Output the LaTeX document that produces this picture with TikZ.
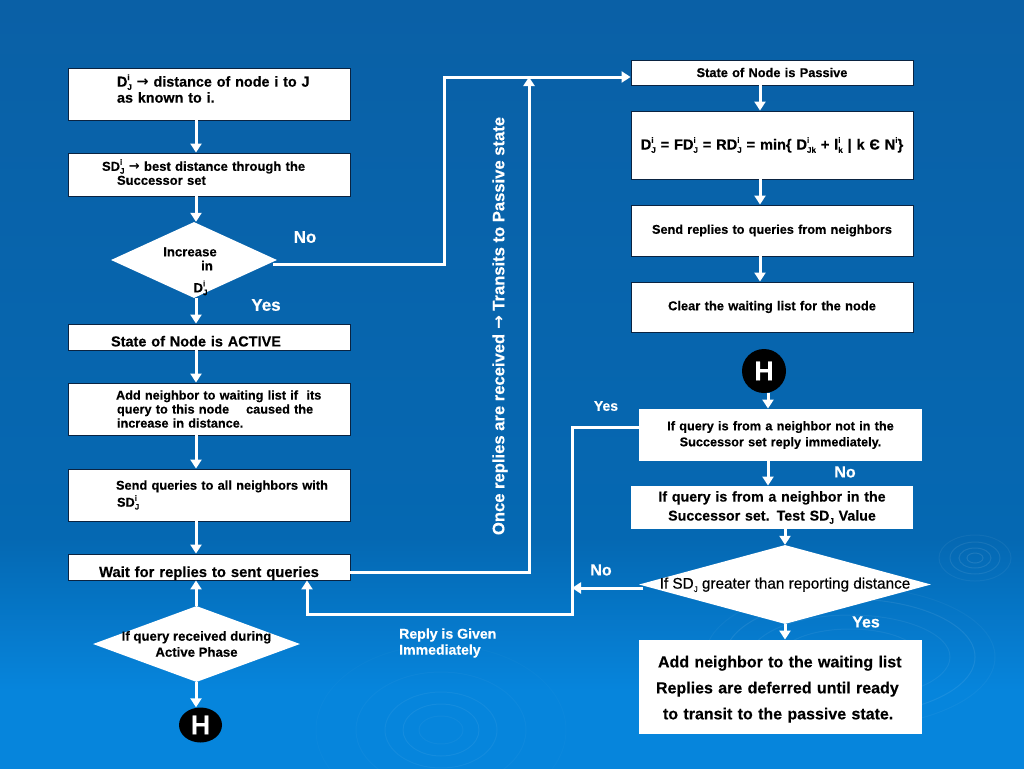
\documentclass[tikz,border=0pt]{standalone}
\usepackage{fontspec}
\setmainfont[BoldFeatures={FakeBold=0.3}]{Liberation Sans}
\newfontfamily\arrowfont{DejaVu Sans}
\newfontfamily\medfont[FakeBold=0.5]{Liberation Sans}
\usetikzlibrary{arrows.meta,shapes.geometric}

\definecolor{bgtop}{RGB}{10,96,166}
\definecolor{bgmid}{RGB}{5,104,178}
\definecolor{bglow}{RGB}{6,133,220}
\definecolor{boxline}{RGB}{10,35,65}
\pgfdeclareverticalshading{bgfade}{100bp}{color(0bp)=(bglow); color(30bp)=(bglow); color(40bp)=(bgmid); color(75bp)=(bgtop); color(100bp)=(bgtop)}

\newcommand{\uptext}[1]{\raisebox{.45em}{\fontsize{8}{8}\selectfont #1}}
\newcommand{\downtext}[1]{\raisebox{-.22em}{\fontsize{8}{8}\selectfont #1}}
\newcommand{\supsub}[2]{\rlap{\uptext{#1}}\downtext{#2}}
\newcommand{\goesto}{{\arrowfont\bfseries\char"2192}}
\newcommand{\fs}[2]{\fontsize{#1}{#2}\selectfont\bfseries}
% text of a diamond, without a say in its size
\newcommand{\deck}[2][-4.5pt]{\makebox[0pt]{\raisebox{#1}[0pt][0pt]{\begin{tabular}{@{}c@{}}#2\end{tabular}}}}

\tikzset{
	flowbox/.style={rectangle,draw=boxline,line width=0.9pt,fill=white,minimum width=282pt,text width=282pt,inner xsep=0pt,inner ysep=0pt,align=center,text=black,font=\fs{12.8}{14}},
	leftbox/.style={flowbox,align=left},
	plainbox/.style={flowbox,draw=none},
	flowdec/.style={diamond,fill=white,inner sep=0pt,text=black,font=\fs{13.2}{16}},
	stopdot/.style={ellipse,fill=black,text=white,inner sep=0pt,font=\fs{27}{30}},
	tag/.style={text=white,inner sep=0pt,font=\fs{#1}{16}},
	flowline/.style={draw=white,line width=3pt,line join=miter},
	flow/.style={flowline,-{Triangle[width=11pt,length=9pt]}},
	ring/.style={draw=white,line width=1pt}
}

\begin{document}
\begin{tikzpicture}[x=1pt,y=-1pt,auto,node distance=72pt]
	\useasboundingbox (0,0) rectangle (1024,768);
	\shade [shading=bgfade] (0,0) rectangle (1024,768);

	% Ripples
	\foreach \rx/\ry/\op in {8/5/.10,16/10/.09,25/16/.08,36/23/.05}
		\draw [ring,opacity=\op] (975,558) ellipse [x radius=\rx,y radius=\ry];
	\foreach \rx/\ry/\op in {22/14/.04,38/26/.06,56/38/.05,85/58/.03,125/85/.02}
		\draw [ring,opacity=\op] (441,730) ellipse [x radius=\rx,y radius=\ry];
	\foreach \rx/\ry/\op in {70/28/.06,100/42/.06,125/58/.08,145/70/.04}
		\draw [ring,opacity=\op] (850,657) ellipse [x radius=\rx,y radius=\ry];

	% Left column
	\node [leftbox,minimum height=52pt,text depth=27pt,font=\fs{14.4}{16}] (known) at (209,94) {\hspace*{49pt}D\supsub{i}{J} \goesto{} distance of node i to J\\\hspace*{49pt}as known to i.};
	\node [leftbox,below of=known,node distance=80.5pt,minimum height=43pt,text depth=19pt,font=\fs{13}{14}] (best) {\hspace*{34pt}SD\supsub{i}{J} \goesto{} best distance through the\\\hspace*{49pt}Successor set};
	\node [flowdec,below of=best,node distance=85.5pt,xshift=-15pt,aspect=2.18,minimum width=166pt,minimum height=76pt,font=\fs{13.2}{14}] (incr) {\deck[-14.5pt]{\hspace*{-8pt}Increase\\\hspace*{26pt}in\\[6pt]\hspace*{13pt}D\supsub{i}{J}}};
	\node [leftbox,below of=best,node distance=162.5pt,minimum height=26pt,text height=19pt,font=\fs{14.5}{14}] (active) {\hspace*{43pt}State of Node is ACTIVE};
	\node [leftbox,below of=active,minimum height=52pt,font=\fs{12.7}{14}] (addwait) {\hspace*{48pt}Add neighbor to waiting list if\ \ its\\\hspace*{49pt}query to this node\ \ \ \ caused the\\\hspace*{49pt}increase in distance.};
	\node [leftbox,below of=addwait,node distance=86pt,minimum height=52pt,font=\fs{12.8}{17}] (sendq) {\hspace*{48pt}Send queries to all neighbors with\\\hspace*{49pt}SD\supsub{i}{J}};
	\node [flowbox,below of=sendq,minimum height=26pt,text height=20pt,text depth=0pt,font=\fs{14.8}{16}] (waitr) {Wait for replies to sent queries};
	\node [flowdec,below of=waitr,node distance=77pt,xshift=-12.5pt,aspect=2.72,minimum width=207pt,minimum height=76pt] (qactive) {\deck{If query received during\\Active Phase}};
	\node [stopdot,minimum width=43pt,minimum height=35pt] (hleft) at (200.5,725) {H};

	% Right column
	\node [flowbox,minimum height=25pt] (passive) at (772,72.5) {State of Node is Passive};
	\node [flowbox,below of=passive,node distance=72.5pt,minimum height=68pt,font=\fs{14.6}{14}] (minform) {D\supsub{i}{J} = FD\supsub{i}{J} = RD\supsub{i}{J} = min\{ D\supsub{i}{Jk} + l\supsub{i}{k} | k Є N\uptext{i}\}};
	\node [flowbox,below of=minform,node distance=85.5pt,minimum height=51pt,font=\fs{12.7}{14}] (sendr) {Send replies to queries from neighbors};
	\node [flowbox,below of=sendr,node distance=76.5pt,minimum height=50pt,font=\fs{12.9}{14}] (clearw) {Clear the waiting list for the node};
	\node [stopdot,minimum width=44pt,minimum height=44pt] (hright) at (764,371) {H};
	\node [plainbox,minimum width=283pt,text width=283pt,minimum height=52pt,font=\fs{12.7}{16}] (notsucc) at (780.5,435) {If query is from a neighbor not in the\\Successor set reply immediately.};
	\node [plainbox,minimum height=43pt,font=\fs{14.25}{19}] (insucc) at (772,507.5) {If query is from a neighbor in the\\Successor set. Test SD\downtext{J} Value};
	\node [flowdec,aspect=3.7,minimum width=292pt,minimum height=79pt,font=\medfont\fontsize{15.3}{16}\selectfont] (greater) at (785,584.5) {\deck{If SD\downtext{J} greater than reporting distance}};
	\node [plainbox,minimum width=283pt,text width=283pt,minimum height=94pt,align=left,text height=16pt,font=\fs{16}{26}] (defer) at (780.5,687) {\hspace*{19pt}Add neighbor to the waiting list\\\hspace*{17pt}Replies are deferred until ready\\\hspace*{24pt}to transit to the passive state.};

	% Labels
	\node [tag=17] (lno) at (305,237) {No};
	\node [tag=17] (lyes) at (266,305) {Yes};
	\node [tag=14] (ryes) at (606,406) {Yes};
	\node [tag=16] (rno) at (845,472) {No};
	\node [tag=16] (dno) at (601,570) {No};
	\node [tag=16] (dyes) at (866,622) {Yes};
	\node [tag=14.1,align=left,anchor=west] (given) at (399,643) {Reply is Given\\Immediately};
	\node [tag=16.6,rotate=90] (onceq) at (500,326) {Once replies are received \goesto{} Transits to Passive state};

	% Turning points
	\coordinate (axis) at (196,0);
	\coordinate (passaxis) at (760,0);
	\coordinate (nbraxis) at (768,0);
	\coordinate (noa) at (444,264);
	\coordinate (nob) at (444,77);
	\coordinate (waita) at (529,572);
	\coordinate (waitb) at (529,77);
	\coordinate (reta) at (572,427);
	\coordinate (retb) at (572,614);
	\coordinate (retc) at (307,614);
	\coordinate (retd) at (572,588);

	% Connectors
	\draw [flow] (known.south -| axis) -- (best.north -| axis);
	\draw [flow] (best.south -| axis) -- (incr.north -| axis);
	\draw [flow] (incr.south -| axis) -- (active.north -| axis);
	\draw [flow] (active.south -| axis) -- (addwait.north -| axis);
	\draw [flow] (addwait.south -| axis) -- (sendq.north -| axis);
	\draw [flow] (sendq.south -| axis) -- (waitr.north -| axis);
	\draw [flow] (qactive.north -| axis) -- (waitr.south -| axis);
	\draw [flow] (qactive.south -| axis) -- (hleft.north -| axis);
	\draw [flow] ([xshift=-4pt]incr.east |- noa) -- (noa) -- (nob) -- (passive.west |- nob);
	\draw [flow] ([yshift=-5pt]waitr.east) -- (waita) -- (waitb);
	\draw [flow] (passive.south -| passaxis) -- (minform.north -| passaxis);
	\draw [flow] (minform.south -| passaxis) -- (sendr.north -| passaxis);
	\draw [flow] (sendr.south -| passaxis) -- (clearw.north -| passaxis);
	\draw [flow] (hright.south -| nbraxis) -- (notsucc.north -| nbraxis);
	\draw [flow] (notsucc.south -| nbraxis) -- (insucc.north -| nbraxis);
	\draw [flow] (insucc.south -| greater.north) -- (greater.north);
	\draw [flow] (greater.south) -- (defer.north -| greater.south);
	\draw [flow] (notsucc.west |- reta) -- (reta) -- (retb) -- (retc) -- (retc |- waitr.south);
	\draw [flow] ([xshift=4pt]greater.west |- retd) -- (retd);
\end{tikzpicture}
\end{document}
